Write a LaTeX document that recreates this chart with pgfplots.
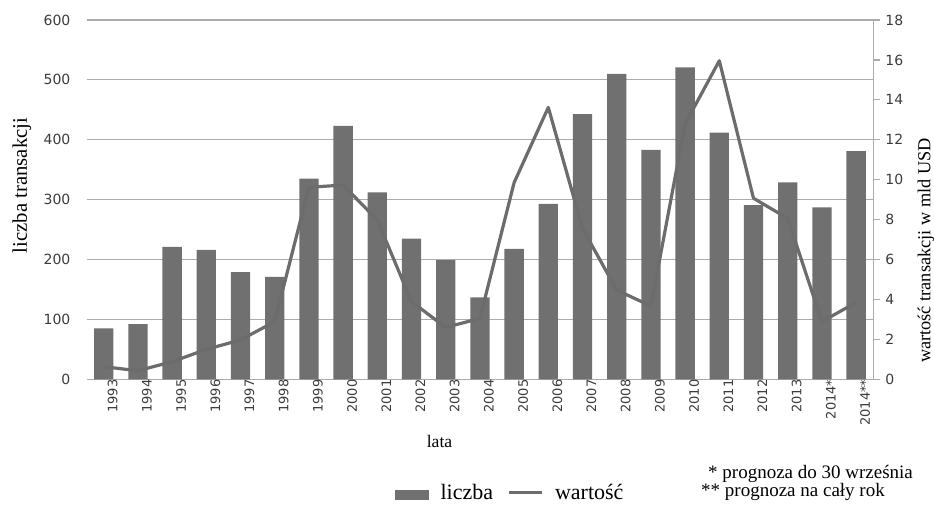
\documentclass[border=0pt]{standalone}
\usepackage{pgfplots}
\pgfplotsset{compat=1.18}
\usepackage{pgfplotstable}
\usepackage{fontspec}
\setmainfont{Liberation Serif}
\newfontfamily\tickfont{DejaVu Sans}
\definecolor{barcol}{HTML}{707070}
\definecolor{linecol}{HTML}{6C6C6C}
\definecolor{gridcol}{HTML}{ABABAB}
\definecolor{tickcol}{HTML}{3C3C3C}

\pgfplotstableread{
x liczba wartosc
0 85 0.63
1 92 0.43
2 221 0.88
3 216 1.50
4 179 1.97
5 171 2.89
6 335 9.62
7 423 9.73
8 312 7.98
9 235 3.89
10 199 2.60
11 137 3.05
12 218 9.85
13 293 13.62
14 443 7.56
15 510 4.47
16 383 3.67
17 521 12.79
18 412 15.96
19 291 9.07
20 329 8.06
21 287 2.89
22 381 3.85
}\data

\begin{document}
\begin{tikzpicture}[x=1pt,y=1pt]
\path[use as bounding box] (0,0) rectangle (934,506);
\begin{axis}[
  at={(86.6pt,126.7pt)}, anchor=south west,
  scale only axis, width=786.6pt, height=359.3pt,
  xmin=-0.5, xmax=22.5, ymin=0, ymax=600,
  ytick={0,100,...,600},
  xtick={0,...,22},
  xticklabels={1993,1994,1995,1996,1997,1998,1999,2000,2001,2002,2003,2004,2005,2006,2007,2008,2009,2010,2011,2012,2013,2014*,2014**},
  xticklabel style={rotate=90, anchor=east, font=\tickfont\fontsize{13}{14}\selectfont, text=tickcol, inner sep=0pt, yshift=-9pt},
  yticklabel style={font=\tickfont\fontsize{14}{16}\selectfont, text=tickcol, inner sep=0pt, xshift=-16pt},
  /pgf/number format/assume math mode=true,
  axis x line*=bottom, axis y line*=left,
  x axis line style={draw=gridcol, line width=1.2pt, -},
  y axis line style={draw=none},
  major tick length=0pt,
  ymajorgrids, grid style={draw=gridcol, line width=1.2pt},
  ybar, bar width=19.3pt,
]
\addplot[fill=barcol, draw=none] table[x=x, y=liczba] {\data};
\end{axis}
\begin{axis}[
  at={(86.6pt,126.7pt)}, anchor=south west,
  scale only axis, width=786.6pt, height=359.3pt,
  xmin=-0.5, xmax=22.5, ymin=0, ymax=18,
  ytick={0,2,...,18},
  axis x line=none, axis y line*=right,
  y axis line style={draw=gridcol, line width=1.2pt, -},
  ytick style={draw=gridcol, line width=1.2pt},
  tick align=outside, major tick length=7pt,
  yticklabel style={font=\tickfont\fontsize{14}{16}\selectfont, text=tickcol, inner sep=0pt, xshift=5pt},
  /pgf/number format/assume math mode=true,
  legend columns=-1,
  legend style={draw=none, fill=none, inner sep=0pt, at={(0.392,-0.316)}, anchor=west,
    font=\fontsize{22}{24}\selectfont,
    nodes={inner sep=0pt},
    /tikz/every odd column/.append style={column sep=12pt},
    /tikz/every even column/.append style={column sep=14pt}},
]
\addlegendimage{legend image code/.code={\fill[barcol] (0pt,-6pt) rectangle (33pt,3pt);}}
\addlegendentry{liczba}
\addplot[color=linecol, line width=3.2pt, line join=round, mark=none,
  legend image code/.code={\draw[linecol, line width=3pt] (0pt,0pt) -- (33pt,0pt);}] table[x=x, y=wartosc] {\data};
\addlegendentry{wartość}
\end{axis}
\node[rotate=90, font=\fontsize{20.7}{22}\selectfont, inner sep=0pt] at (22,320.5) {liczba transakcji};
\node[rotate=90, font=\fontsize{18.3}{20}\selectfont, inner sep=0pt] at (926,255.5) {wartość transakcji w mld USD};
\node[anchor=base, font=\fontsize{17.6}{19}\selectfont, inner sep=0pt] at (439.5,59) {lata};
\node[anchor=base west, font=\fontsize{19}{21}\selectfont, inner sep=0pt] at (708,28) {* prognoza do 30 września};
\node[anchor=base west, font=\fontsize{19}{21}\selectfont, inner sep=0pt] at (701,10) {** prognoza na cały rok};
\end{tikzpicture}
\end{document}
